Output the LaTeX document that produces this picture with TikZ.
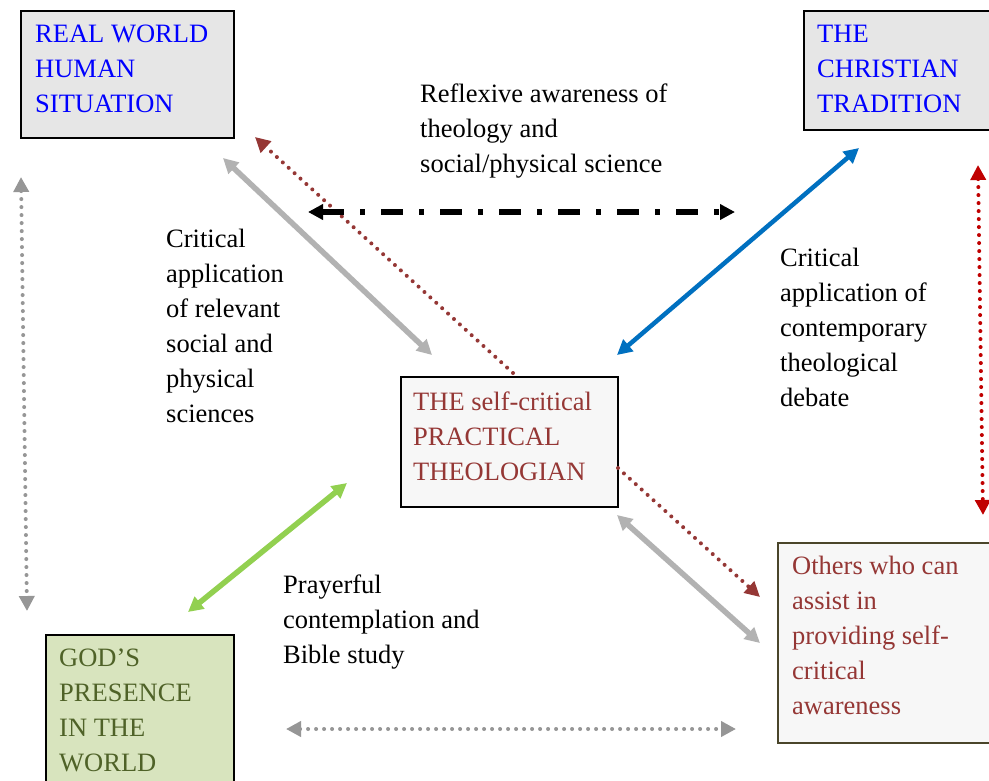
\documentclass[tikz,border=0pt]{standalone}
\usepackage{fontspec}
\setmainfont{Liberation Serif}
\usetikzlibrary{arrows.meta}
\definecolor{boxgray}{RGB}{230,230,230}
\definecolor{palegray}{RGB}{247,247,247}
\definecolor{paleolive}{RGB}{216,228,190}
\definecolor{textred}{RGB}{149,55,53}
\definecolor{textgreen}{RGB}{79,98,40}
\definecolor{tanline}{RGB}{74,69,42}
\definecolor{arrowgray}{RGB}{178,178,178}
\definecolor{dotgray}{RGB}{150,150,150}
\definecolor{arrowblue}{RGB}{0,112,192}
\definecolor{arrowgreen}{RGB}{146,208,80}
\definecolor{brightred}{RGB}{192,0,0}

\begin{document}
\begin{tikzpicture}[x=1pt,y=-1pt,
    every node/.style={font=\fontsize{26.5}{35}\selectfont, align=left, inner sep=0pt, anchor=north west},
    box/.style={draw=black, line width=1.7pt, rectangle},
    tip/.style={{Triangle[length=15pt,width=15pt]}-{Triangle[length=15pt,width=15pt]}},
    onetip/.style={-{Triangle[length=15pt,width=15pt]}},
    solidarrow/.style={line width=5.5pt},
    dots/.style={line width=4pt, line cap=round, dash pattern=on 0pt off 8pt}]
\useasboundingbox[fill=white] (0,0) rectangle (989,780);

% the boxes
\node[box, fill=boxgray, minimum width=213pt, minimum height=127pt] (realbox) at (20,10) {};
\node[box, fill=boxgray, minimum width=220pt, minimum height=119pt] (tradbox) at (803,10) {};
\node[box, fill=palegray, minimum width=217pt, minimum height=130pt] (selfbox) at (400,376) {};
\node[box, draw=tanline, fill=palegray, minimum width=230pt, minimum height=200pt] (othersbox) at (777,542) {};
\node[box, fill=paleolive, minimum width=188pt, minimum height=170pt] (godbox) at (45,634) {};

% box texts
\node[text=blue] (real) at (35,25) {REAL WORLD\\HUMAN\\SITUATION};
\node[text=blue] (trad) at (817,25) {THE\\CHRISTIAN\\TRADITION};
\node[text=textred] (self) at (413,392) {THE self-critical\\PRACTICAL\\THEOLOGIAN};
\node[text=textred] (others) at (792,556) {Others who can\\assist in\\providing self-\\critical\\awareness};
\node[text=textgreen] (god) at (59,649) {GOD’S\\PRESENCE\\IN THE\\WORLD};

% labels
\node (reflex) at (420,84) {Reflexive awareness of\\theology and\\social/physical science};
\node (science) at (166,229) {Critical\\application\\of relevant\\social and\\physical\\sciences};
\node (debate) at (780,248) {Critical\\application of\\contemporary\\theological\\debate};
\node (prayer) at (283,575) {Prayerful\\contemplation and\\Bible study};

% arrow ends
\coordinate (sci1) at (223,158);   \coordinate (sci2) at (432,355);
\coordinate (ref1) at (513,373);   \coordinate (ref2) at (255,137);
\coordinate (deb1) at (617,355);   \coordinate (deb2) at (859,148);
\coordinate (dash1) at (308,212);  \coordinate (dash2) at (735,212);
\coordinate (left1) at (21,177);   \coordinate (left2) at (27,611);
\coordinate (right1) at (978,165); \coordinate (right2) at (983,515);
\coordinate (pray1) at (188,612);  \coordinate (pray2) at (347,483);
\coordinate (oth1) at (618,468);   \coordinate (oth2) at (760,597);
\coordinate (ass1) at (617,515);   \coordinate (ass2) at (760,643);
\coordinate (bot1) at (286,729);   \coordinate (bot2) at (736,729);

% connectors
\draw[tip, solidarrow, arrowgray] (sci1) -- (sci2);
\draw[onetip, dots, textred] (ref1) -- (ref2);
\draw[tip, line width=4.5pt, arrowblue] (deb1) -- (deb2);
\draw[tip, line width=5.5pt, dash pattern=on 22pt off 16pt on 5pt off 16pt] (dash1) -- (dash2);
\draw[tip, dots, dotgray] (left1) -- (left2);
\draw[tip, dots, brightred] (right1) -- (right2);
\draw[tip, solidarrow, arrowgreen] (pray1) -- (pray2);
\draw[onetip, dots, textred] (oth1) -- (oth2);
\draw[tip, solidarrow, arrowgray] (ass1) -- (ass2);
\draw[tip, dots, dotgray] (bot1) -- (bot2);

\end{tikzpicture}
\end{document}
